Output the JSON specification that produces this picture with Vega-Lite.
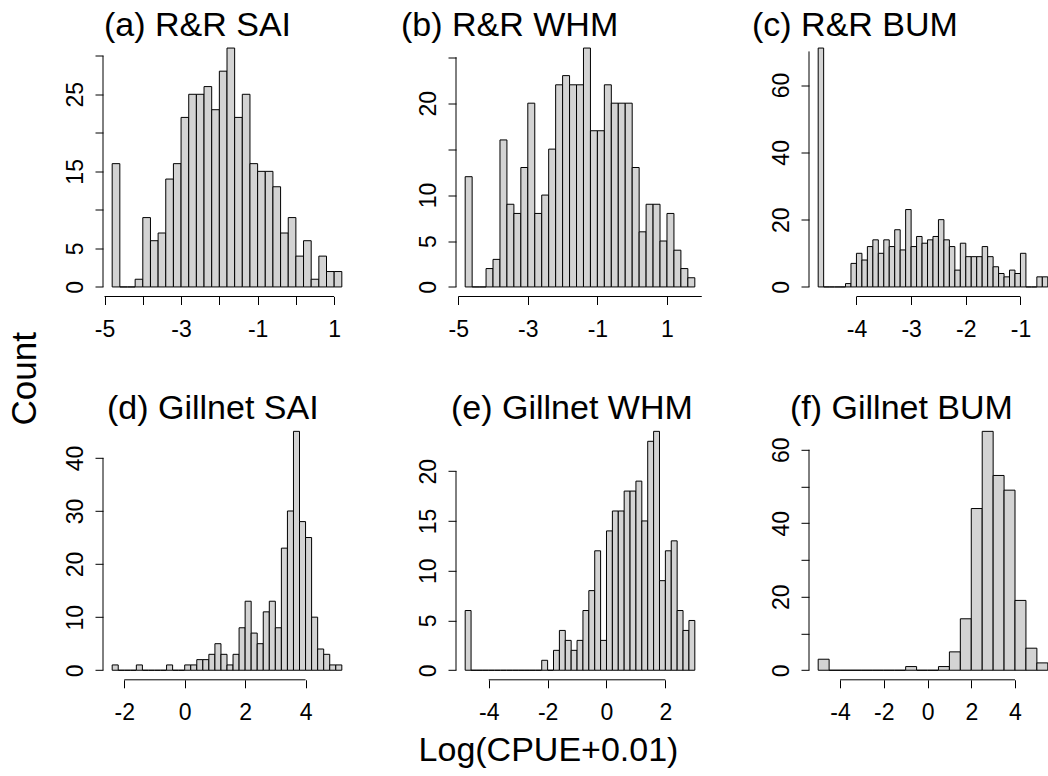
{
  "$schema": "https://vega.github.io/schema/vega-lite/v6.json",
  "padding": {"left": 7, "top": 8.5, "right": 0, "bottom": 0},
  "background": "white",
  "config": {
    "view": {"stroke": null},
    "font": "Liberation Sans",
    "axis": {"domain": false, "grid": false, "tickColor": "black", "tickSize": 8, "tickWidth": 1, "labelColor": "black", "labelFont": "Liberation Sans", "labelFontSize": 23, "labelOverlap": false, "labelBound": false, "labelFlush": false, "titleFont": "Liberation Sans", "titleFontSize": 34, "titleFontWeight": "normal", "titleColor": "black"},
    "axisX": {"labelAngle": 0, "labelAlign": "center", "labelBaseline": "alphabetic", "labelPadding": 32},
    "axisY": {"labelAngle": 270, "labelAlign": "center", "labelBaseline": "alphabetic", "labelPadding": 13},
    "title": {"anchor": "start", "frame": "group", "fontSize": 34, "fontWeight": "normal", "font": "Liberation Sans", "color": "black", "baseline": "alphabetic", "offset": -4.3}
  },
  "columns": 3,
  "spacing": {"row": 125.3, "column": 105},
  "bounds": "flush",
  "concat": [
    {
      "width": 248, "height": 258,
      "title": {"text": "(a) R&R SAI", "dx": 1},
      "layer": [
        {
          "data": {"values": [
            {"x0": -4.8, "x1": -4.6, "n": 16}, {"x0": -4.6, "x1": -4.4, "n": 0}, {"x0": -4.4, "x1": -4.2, "n": 0},
            {"x0": -4.2, "x1": -4.0, "n": 1}, {"x0": -4.0, "x1": -3.8, "n": 9}, {"x0": -3.8, "x1": -3.6, "n": 6},
            {"x0": -3.6, "x1": -3.4, "n": 7}, {"x0": -3.4, "x1": -3.2, "n": 14}, {"x0": -3.2, "x1": -3.0, "n": 16},
            {"x0": -3.0, "x1": -2.8, "n": 22}, {"x0": -2.8, "x1": -2.6, "n": 25}, {"x0": -2.6, "x1": -2.4, "n": 25},
            {"x0": -2.4, "x1": -2.2, "n": 26}, {"x0": -2.2, "x1": -2.0, "n": 23}, {"x0": -2.0, "x1": -1.8, "n": 28},
            {"x0": -1.8, "x1": -1.6, "n": 31}, {"x0": -1.6, "x1": -1.4, "n": 22}, {"x0": -1.4, "x1": -1.2, "n": 25},
            {"x0": -1.2, "x1": -1.0, "n": 16}, {"x0": -1.0, "x1": -0.8, "n": 15}, {"x0": -0.8, "x1": -0.6, "n": 15},
            {"x0": -0.6, "x1": -0.4, "n": 13}, {"x0": -0.4, "x1": -0.2, "n": 7}, {"x0": -0.2, "x1": 0.0, "n": 9},
            {"x0": 0.0, "x1": 0.2, "n": 4}, {"x0": 0.2, "x1": 0.4, "n": 6}, {"x0": 0.4, "x1": 0.6, "n": 1},
            {"x0": 0.6, "x1": 0.8, "n": 4}, {"x0": 0.8, "x1": 1.0, "n": 2}, {"x0": 1.0, "x1": 1.2, "n": 2}
          ]},
          "mark": {"type": "rect", "fill": "#d3d3d3", "stroke": "black", "strokeWidth": 1},
          "encoding": {
            "x": {"field": "x0", "type": "quantitative", "scale": {"domain": [-5.04, 1.44], "nice": false, "zero": false},
                  "axis": {"title": null, "values": [-5, -4, -3, -2, -1, 0, 1], "labelExpr": "indexof([-5,-3,-1,1], datum.value) >= 0 ? '' + datum.value : ''"}},
            "x2": {"field": "x1"},
            "y": {"field": "n", "type": "quantitative", "scale": {"domain": [-1.24, 32.24], "nice": false, "zero": false},
                  "axis": {"title": "Count", "titleFontSize": 35, "titleX": -67.7, "titleY": 339.8, "titleAngle": 270, "titleAlign": "center", "titleBaseline": "alphabetic",
                           "values": [0, 5, 10, 15, 20, 25, 30], "labelExpr": "indexof([0,5,15,25], datum.value) >= 0 ? '' + datum.value : ''"}},
            "y2": {"datum": 0}
          }
        },
        {
          "data": {"values": [{"x": -5, "x2": 1, "y": -1.24, "y2": -1.24}, {"x": -5.04, "x2": -5.04, "y": 0, "y2": 30}]},
          "mark": {"type": "rule", "color": "black", "strokeWidth": 1},
          "encoding": {"x": {"field": "x", "type": "quantitative"}, "x2": {"field": "x2"}, "y": {"field": "y", "type": "quantitative"}, "y2": {"field": "y2"}}
        }
      ]
    },
    {
      "width": 248, "height": 258,
      "title": {"text": "(b) R&R WHM", "dx": -55},
      "layer": [
        {
          "data": {"values": [
            {"x0": -4.8, "x1": -4.6, "n": 12}, {"x0": -4.6, "x1": -4.4, "n": 0}, {"x0": -4.4, "x1": -4.2, "n": 0},
            {"x0": -4.2, "x1": -4.0, "n": 2}, {"x0": -4.0, "x1": -3.8, "n": 3}, {"x0": -3.8, "x1": -3.6, "n": 16},
            {"x0": -3.6, "x1": -3.4, "n": 9}, {"x0": -3.4, "x1": -3.2, "n": 8}, {"x0": -3.2, "x1": -3.0, "n": 13},
            {"x0": -3.0, "x1": -2.8, "n": 20}, {"x0": -2.8, "x1": -2.6, "n": 8}, {"x0": -2.6, "x1": -2.4, "n": 10},
            {"x0": -2.4, "x1": -2.2, "n": 15}, {"x0": -2.2, "x1": -2.0, "n": 22}, {"x0": -2.0, "x1": -1.8, "n": 23},
            {"x0": -1.8, "x1": -1.6, "n": 22}, {"x0": -1.6, "x1": -1.4, "n": 22}, {"x0": -1.4, "x1": -1.2, "n": 26},
            {"x0": -1.2, "x1": -1.0, "n": 17}, {"x0": -1.0, "x1": -0.8, "n": 17}, {"x0": -0.8, "x1": -0.6, "n": 22},
            {"x0": -0.6, "x1": -0.4, "n": 20}, {"x0": -0.4, "x1": -0.2, "n": 20}, {"x0": -0.2, "x1": 0.0, "n": 20},
            {"x0": 0.0, "x1": 0.2, "n": 13}, {"x0": 0.2, "x1": 0.4, "n": 6}, {"x0": 0.4, "x1": 0.6, "n": 9},
            {"x0": 0.6, "x1": 0.8, "n": 9}, {"x0": 0.8, "x1": 1.0, "n": 5}, {"x0": 1.0, "x1": 1.2, "n": 8},
            {"x0": 1.2, "x1": 1.4, "n": 4}, {"x0": 1.4, "x1": 1.6, "n": 2}, {"x0": 1.6, "x1": 1.8, "n": 1}
          ]},
          "mark": {"type": "rect", "fill": "#d3d3d3", "stroke": "black", "strokeWidth": 1},
          "encoding": {
            "x": {"field": "x0", "type": "quantitative", "scale": {"domain": [-5.064, 2.064], "nice": false, "zero": false},
                  "axis": {"title": null, "values": [-5, -4, -3, -2, -1, 0, 1, 2], "labelExpr": "indexof([-5,-3,-1,1,2], datum.value) >= 0 ? '' + datum.value : ''"}},
            "x2": {"field": "x1"},
            "y": {"field": "n", "type": "quantitative", "scale": {"domain": [-1.04, 27.04], "nice": false, "zero": false},
                  "axis": {"title": null, "values": [0, 5, 10, 15, 20, 25], "labelExpr": "indexof([0,5,10,20], datum.value) >= 0 ? '' + datum.value : ''"}},
            "y2": {"datum": 0}
          }
        },
        {
          "data": {"values": [{"x": -5, "x2": 2, "y": -1.04, "y2": -1.04}, {"x": -5.064, "x2": -5.064, "y": 0, "y2": 25}]},
          "mark": {"type": "rule", "color": "black", "strokeWidth": 1},
          "encoding": {"x": {"field": "x", "type": "quantitative"}, "x2": {"field": "x2"}, "y": {"field": "y", "type": "quantitative"}, "y2": {"field": "y2"}}
        }
      ]
    },
    {
      "width": 239, "height": 258,
      "title": {"text": "(c) R&R BUM", "dx": -57},
      "layer": [
        {
          "data": {"values": [
            {"x0": -4.7, "x1": -4.6, "n": 71}, {"x0": -4.6, "x1": -4.5, "n": 0}, {"x0": -4.5, "x1": -4.4, "n": 0},
            {"x0": -4.4, "x1": -4.3, "n": 0}, {"x0": -4.3, "x1": -4.2, "n": 0}, {"x0": -4.2, "x1": -4.1, "n": 1},
            {"x0": -4.1, "x1": -4.0, "n": 7}, {"x0": -4.0, "x1": -3.9, "n": 10}, {"x0": -3.9, "x1": -3.8, "n": 8},
            {"x0": -3.8, "x1": -3.7, "n": 12}, {"x0": -3.7, "x1": -3.6, "n": 14}, {"x0": -3.6, "x1": -3.5, "n": 10},
            {"x0": -3.5, "x1": -3.4, "n": 14}, {"x0": -3.4, "x1": -3.3, "n": 12}, {"x0": -3.3, "x1": -3.2, "n": 17},
            {"x0": -3.2, "x1": -3.1, "n": 11}, {"x0": -3.1, "x1": -3.0, "n": 23}, {"x0": -3.0, "x1": -2.9, "n": 12},
            {"x0": -2.9, "x1": -2.8, "n": 15}, {"x0": -2.8, "x1": -2.7, "n": 13}, {"x0": -2.7, "x1": -2.6, "n": 14},
            {"x0": -2.6, "x1": -2.5, "n": 15}, {"x0": -2.5, "x1": -2.4, "n": 20}, {"x0": -2.4, "x1": -2.3, "n": 14},
            {"x0": -2.3, "x1": -2.2, "n": 12}, {"x0": -2.2, "x1": -2.1, "n": 5}, {"x0": -2.1, "x1": -2.0, "n": 13},
            {"x0": -2.0, "x1": -1.9, "n": 9}, {"x0": -1.9, "x1": -1.8, "n": 9}, {"x0": -1.8, "x1": -1.7, "n": 9},
            {"x0": -1.7, "x1": -1.6, "n": 12}, {"x0": -1.6, "x1": -1.5, "n": 9}, {"x0": -1.5, "x1": -1.4, "n": 6},
            {"x0": -1.4, "x1": -1.3, "n": 4}, {"x0": -1.3, "x1": -1.2, "n": 3}, {"x0": -1.2, "x1": -1.1, "n": 5},
            {"x0": -1.1, "x1": -1.0, "n": 4}, {"x0": -1.0, "x1": -0.9, "n": 10}, {"x0": -0.9, "x1": -0.8, "n": 0},
            {"x0": -0.8, "x1": -0.7, "n": 0}, {"x0": -0.7, "x1": -0.6, "n": 3}, {"x0": -0.6, "x1": -0.5, "n": 3}
          ]},
          "mark": {"type": "rect", "fill": "#d3d3d3", "stroke": "black", "strokeWidth": 1, "clip": true},
          "encoding": {
            "x": {"field": "x0", "type": "quantitative", "scale": {"domain": [-4.868, -0.496], "nice": false, "zero": false},
                  "axis": {"title": null, "values": [-4, -3, -2, -1], "labelExpr": "'' + datum.value"}},
            "x2": {"field": "x1"},
            "y": {"field": "n", "type": "quantitative", "scale": {"domain": [-2.84, 73.84], "nice": false, "zero": false},
                  "axis": {"title": null, "values": [0, 10, 20, 30, 40, 50, 60, 70], "labelExpr": "indexof([0,20,40,60], datum.value) >= 0 ? '' + datum.value : ''"}},
            "y2": {"datum": 0}
          }
        },
        {
          "data": {"values": [{"x": -4, "x2": -1, "y": -2.84, "y2": -2.84}, {"x": -4.868, "x2": -4.868, "y": 0, "y2": 70}]},
          "mark": {"type": "rule", "color": "black", "strokeWidth": 1},
          "encoding": {"x": {"field": "x", "type": "quantitative"}, "x2": {"field": "x2"}, "y": {"field": "y", "type": "quantitative"}, "y2": {"field": "y2"}}
        }
      ]
    },
    {
      "width": 248, "height": 258,
      "title": {"text": "(d) Gillnet SAI", "dx": 4},
      "layer": [
        {
          "data": {"values": [
            {"x0": -2.4, "x1": -2.2, "n": 1}, {"x0": -2.2, "x1": -2.0, "n": 0}, {"x0": -2.0, "x1": -1.8, "n": 0},
            {"x0": -1.8, "x1": -1.6, "n": 0}, {"x0": -1.6, "x1": -1.4, "n": 1}, {"x0": -1.4, "x1": -1.2, "n": 0},
            {"x0": -1.2, "x1": -1.0, "n": 0}, {"x0": -1.0, "x1": -0.8, "n": 0}, {"x0": -0.8, "x1": -0.6, "n": 0},
            {"x0": -0.6, "x1": -0.4, "n": 1}, {"x0": -0.4, "x1": -0.2, "n": 0}, {"x0": -0.2, "x1": 0.0, "n": 0},
            {"x0": 0.0, "x1": 0.2, "n": 1}, {"x0": 0.2, "x1": 0.4, "n": 1}, {"x0": 0.4, "x1": 0.6, "n": 2},
            {"x0": 0.6, "x1": 0.8, "n": 2}, {"x0": 0.8, "x1": 1.0, "n": 3}, {"x0": 1.0, "x1": 1.2, "n": 5},
            {"x0": 1.2, "x1": 1.4, "n": 3}, {"x0": 1.4, "x1": 1.6, "n": 1}, {"x0": 1.6, "x1": 1.8, "n": 3},
            {"x0": 1.8, "x1": 2.0, "n": 8}, {"x0": 2.0, "x1": 2.2, "n": 13}, {"x0": 2.2, "x1": 2.4, "n": 7},
            {"x0": 2.4, "x1": 2.6, "n": 5}, {"x0": 2.6, "x1": 2.8, "n": 11}, {"x0": 2.8, "x1": 3.0, "n": 13},
            {"x0": 3.0, "x1": 3.2, "n": 8}, {"x0": 3.2, "x1": 3.4, "n": 23}, {"x0": 3.4, "x1": 3.6, "n": 30},
            {"x0": 3.6, "x1": 3.8, "n": 45}, {"x0": 3.8, "x1": 4.0, "n": 28}, {"x0": 4.0, "x1": 4.2, "n": 25},
            {"x0": 4.2, "x1": 4.4, "n": 10}, {"x0": 4.4, "x1": 4.6, "n": 4}, {"x0": 4.6, "x1": 4.8, "n": 3},
            {"x0": 4.8, "x1": 5.0, "n": 1}, {"x0": 5.0, "x1": 5.2, "n": 1}
          ]},
          "mark": {"type": "rect", "fill": "#d3d3d3", "stroke": "black", "strokeWidth": 1},
          "encoding": {
            "x": {"field": "x0", "type": "quantitative", "scale": {"domain": [-2.704, 5.504], "nice": false, "zero": false},
                  "axis": {"title": null, "values": [-2, 0, 2, 4], "labelExpr": "'' + datum.value"}},
            "x2": {"field": "x1"},
            "y": {"field": "n", "type": "quantitative", "scale": {"domain": [-1.8, 46.8], "nice": false, "zero": false},
                  "axis": {"title": null, "values": [0, 10, 20, 30, 40]}},
            "y2": {"datum": 0}
          }
        },
        {
          "data": {"values": [{"x": -2, "x2": 4, "y": -1.8, "y2": -1.8}, {"x": -2.704, "x2": -2.704, "y": 0, "y2": 40}]},
          "mark": {"type": "rule", "color": "black", "strokeWidth": 1},
          "encoding": {"x": {"field": "x", "type": "quantitative"}, "x2": {"field": "x2"}, "y": {"field": "y", "type": "quantitative"}, "y2": {"field": "y2"}}
        }
      ]
    },
    {
      "width": 248, "height": 258,
      "title": {"text": "(e) Gillnet WHM", "dx": -5},
      "layer": [
        {
          "data": {"values": [
            {"x0": -4.8, "x1": -4.6, "n": 6}, {"x0": -4.6, "x1": -4.4, "n": 0}, {"x0": -4.4, "x1": -4.2, "n": 0},
            {"x0": -4.2, "x1": -4.0, "n": 0}, {"x0": -4.0, "x1": -3.8, "n": 0}, {"x0": -3.8, "x1": -3.6, "n": 0},
            {"x0": -3.6, "x1": -3.4, "n": 0}, {"x0": -3.4, "x1": -3.2, "n": 0}, {"x0": -3.2, "x1": -3.0, "n": 0},
            {"x0": -3.0, "x1": -2.8, "n": 0}, {"x0": -2.8, "x1": -2.6, "n": 0}, {"x0": -2.6, "x1": -2.4, "n": 0},
            {"x0": -2.4, "x1": -2.2, "n": 0}, {"x0": -2.2, "x1": -2.0, "n": 1}, {"x0": -2.0, "x1": -1.8, "n": 0},
            {"x0": -1.8, "x1": -1.6, "n": 2}, {"x0": -1.6, "x1": -1.4, "n": 4}, {"x0": -1.4, "x1": -1.2, "n": 3},
            {"x0": -1.2, "x1": -1.0, "n": 2}, {"x0": -1.0, "x1": -0.8, "n": 3}, {"x0": -0.8, "x1": -0.6, "n": 6},
            {"x0": -0.6, "x1": -0.4, "n": 8}, {"x0": -0.4, "x1": -0.2, "n": 12}, {"x0": -0.2, "x1": 0.0, "n": 3},
            {"x0": 0.0, "x1": 0.2, "n": 14}, {"x0": 0.2, "x1": 0.4, "n": 16}, {"x0": 0.4, "x1": 0.6, "n": 16},
            {"x0": 0.6, "x1": 0.8, "n": 18}, {"x0": 0.8, "x1": 1.0, "n": 18}, {"x0": 1.0, "x1": 1.2, "n": 19},
            {"x0": 1.2, "x1": 1.4, "n": 15}, {"x0": 1.4, "x1": 1.6, "n": 23}, {"x0": 1.6, "x1": 1.8, "n": 24},
            {"x0": 1.8, "x1": 2.0, "n": 9}, {"x0": 2.0, "x1": 2.2, "n": 12}, {"x0": 2.2, "x1": 2.4, "n": 13},
            {"x0": 2.4, "x1": 2.6, "n": 6}, {"x0": 2.6, "x1": 2.8, "n": 4}, {"x0": 2.8, "x1": 3.0, "n": 5}
          ]},
          "mark": {"type": "rect", "fill": "#d3d3d3", "stroke": "black", "strokeWidth": 1},
          "encoding": {
            "x": {"field": "x0", "type": "quantitative", "scale": {"domain": [-5.112, 3.312], "nice": false, "zero": false},
                  "axis": {"title": "Log(CPUE+0.01)", "titleX": 92, "titleY": 80.2, "titleAngle": 0, "titleAlign": "center", "titleBaseline": "alphabetic", "values": [-4, -2, 0, 2], "labelExpr": "'' + datum.value"}},
            "x2": {"field": "x1"},
            "y": {"field": "n", "type": "quantitative", "scale": {"domain": [-0.96, 24.96], "nice": false, "zero": false},
                  "axis": {"title": null, "values": [0, 5, 10, 15, 20]}},
            "y2": {"datum": 0}
          }
        },
        {
          "data": {"values": [{"x": -4, "x2": 2, "y": -0.96, "y2": -0.96}, {"x": -5.112, "x2": -5.112, "y": 0, "y2": 20}]},
          "mark": {"type": "rule", "color": "black", "strokeWidth": 1},
          "encoding": {"x": {"field": "x", "type": "quantitative"}, "x2": {"field": "x2"}, "y": {"field": "y", "type": "quantitative"}, "y2": {"field": "y2"}}
        }
      ]
    },
    {
      "width": 248, "height": 258,
      "title": {"text": "(f) Gillnet BUM", "dx": -19},
      "layer": [
        {
          "data": {"values": [
            {"x0": -5.0, "x1": -4.5, "n": 3}, {"x0": -4.5, "x1": -4.0, "n": 0}, {"x0": -4.0, "x1": -3.5, "n": 0},
            {"x0": -3.5, "x1": -3.0, "n": 0}, {"x0": -3.0, "x1": -2.5, "n": 0}, {"x0": -2.5, "x1": -2.0, "n": 0},
            {"x0": -2.0, "x1": -1.5, "n": 0}, {"x0": -1.5, "x1": -1.0, "n": 0}, {"x0": -1.0, "x1": -0.5, "n": 1},
            {"x0": -0.5, "x1": 0.0, "n": 0}, {"x0": 0.0, "x1": 0.5, "n": 0}, {"x0": 0.5, "x1": 1.0, "n": 1},
            {"x0": 1.0, "x1": 1.5, "n": 5}, {"x0": 1.5, "x1": 2.0, "n": 14}, {"x0": 2.0, "x1": 2.5, "n": 44},
            {"x0": 2.5, "x1": 3.0, "n": 65}, {"x0": 3.0, "x1": 3.5, "n": 53}, {"x0": 3.5, "x1": 4.0, "n": 49},
            {"x0": 4.0, "x1": 4.5, "n": 19}, {"x0": 4.5, "x1": 5.0, "n": 6}, {"x0": 5.0, "x1": 5.5, "n": 2}
          ]},
          "mark": {"type": "rect", "fill": "#d3d3d3", "stroke": "black", "strokeWidth": 1},
          "encoding": {
            "x": {"field": "x0", "type": "quantitative", "scale": {"domain": [-5.42, 5.92], "nice": false, "zero": false},
                  "axis": {"title": null, "values": [-4, -2, 0, 2, 4], "labelExpr": "'' + datum.value"}},
            "x2": {"field": "x1"},
            "y": {"field": "n", "type": "quantitative", "scale": {"domain": [-2.6, 67.6], "nice": false, "zero": false},
                  "axis": {"title": null, "values": [0, 10, 20, 30, 40, 50, 60], "labelExpr": "indexof([0,20,40,60], datum.value) >= 0 ? '' + datum.value : ''"}},
            "y2": {"datum": 0}
          }
        },
        {
          "data": {"values": [{"x": -4, "x2": 4, "y": -2.6, "y2": -2.6}, {"x": -5.42, "x2": -5.42, "y": 0, "y2": 60}]},
          "mark": {"type": "rule", "color": "black", "strokeWidth": 1},
          "encoding": {"x": {"field": "x", "type": "quantitative"}, "x2": {"field": "x2"}, "y": {"field": "y", "type": "quantitative"}, "y2": {"field": "y2"}}
        }
      ]
    }
  ]
}
